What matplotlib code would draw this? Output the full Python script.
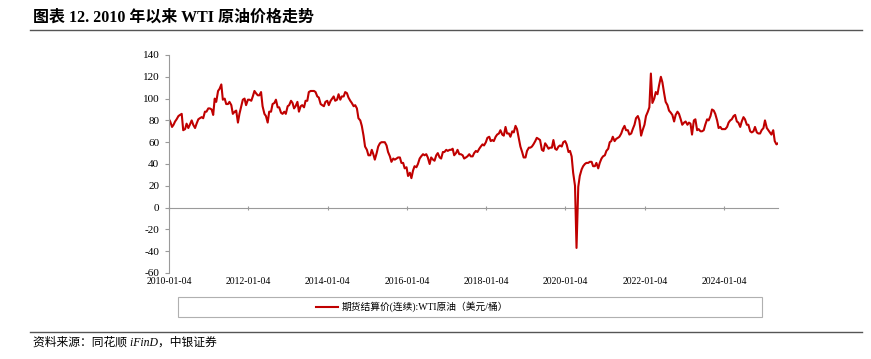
import pandas as pd
import matplotlib
matplotlib.use("Agg")
import matplotlib.pyplot as plt
from matplotlib.lines import Line2D
from matplotlib.patches import Rectangle

plt.rcParams['font.family'] = ['Liberation Serif', 'Noto Sans CJK SC']
plt.rcParams['axes.unicode_minus'] = False

# WTI settlement price at the 1st and 15th of each month
wti_2010 = [81, 79, 74, 76, 79, 81, 84, 85, 86, 71, 72, 77, 73, 76, 80, 76, 73, 77, 81, 82, 83, 82, 88, 88]
wti_2011 = [91, 91, 90, 85, 100, 97, 107, 109, 113, 99, 100, 95, 95, 97, 94, 86, 88, 89, 78, 86, 93, 99, 100, 94]
wti_2012 = [99, 99, 98, 102, 107, 105, 103, 103, 106, 93, 86, 84, 78, 88, 88, 95, 96, 99, 92, 92, 87, 86, 88, 86]
wti_2013 = [93, 94, 98, 96, 91, 93, 97, 88, 93, 94, 92, 98, 98, 106, 107, 107, 107, 106, 102, 101, 95, 94, 93, 97]
wti_2014 = [98, 94, 98, 100, 102, 98, 99, 104, 99, 102, 102, 106, 105, 101, 98, 96, 93, 94, 91, 82, 80, 75, 66, 56]
wti_2015 = [53, 48, 48, 53, 49, 44, 50, 56, 59, 60, 60, 60, 57, 51, 47, 42, 45, 44, 45, 46, 46, 41, 41, 36]
wti_2016 = [37, 29, 32, 27, 34, 38, 37, 40, 45, 47, 49, 48, 49, 46, 40, 46, 44, 43, 48, 50, 46, 45, 51, 51]
wti_2017 = [53, 52, 53, 53, 54, 48, 50, 53, 49, 49, 48, 45, 46, 47, 49, 47, 47, 50, 52, 51, 54, 56, 58, 57]
wti_2018 = [60, 64, 65, 61, 62, 61, 65, 67, 68, 71, 67, 66, 74, 68, 68, 65, 70, 69, 75, 72, 63, 56, 51, 46]
wti_2019 = [46, 52, 55, 55, 56, 58, 61, 64, 63, 62, 53, 52, 59, 57, 54, 55, 55, 62, 54, 53, 56, 57, 56, 60]
wti_2020 = [61, 58, 51, 52, 47, 32, 20, -37, 19, 29, 35, 38, 40, 41, 41, 42, 42, 38, 38, 41, 36, 41, 45, 47]
wti_2021 = [48, 52, 54, 60, 61, 65, 61, 63, 64, 65, 68, 72, 75, 71, 71, 67, 68, 72, 76, 82, 84, 80, 66, 71]
wti_2022 = [76, 84, 88, 92, 123, 96, 100, 106, 104, 112, 120, 115, 105, 97, 94, 89, 87, 85, 79, 85, 88, 86, 81, 76]
wti_2023 = [78, 79, 76, 78, 77, 67, 80, 81, 71, 72, 70, 70, 71, 76, 81, 80, 84, 90, 89, 86, 80, 73, 74, 72]
wti_2024 = [72, 72, 74, 78, 80, 81, 84, 85, 79, 78, 74, 79, 83, 81, 76, 76, 70, 69, 70, 74, 69, 68, 68, 71]
wti_2025 = [73, 80, 73, 71, 69, 67, 71, 61, 58, 59]

prices = (wti_2010 + wti_2011 + wti_2012 + wti_2013 + wti_2014 + wti_2015 + wti_2016 + wti_2017
          + wti_2018 + wti_2019 + wti_2020 + wti_2021 + wti_2022 + wti_2023 + wti_2024 + wti_2025)
dates = pd.date_range("2010-01-01", periods=len(prices), freq="SMS")
dates = dates.where(dates != pd.Timestamp("2010-01-01"), pd.Timestamp("2010-01-04"))

tick_labels = ["2010-01-04", "2012-01-04", "2014-01-04", "2016-01-04",
               "2018-01-04", "2020-01-04", "2022-01-04", "2024-01-04"]
series_name = "期货结算价(连续):WTI原油（美元/桶）"

fig = plt.figure(figsize=(8.71, 3.59), dpi=100)
ax = fig.add_axes([169 / 871, 1 - 273 / 359, 609 / 871, 218 / 359])

red = "#C00000"
ax.plot(dates, prices, color=red, linewidth=1.5)

ax.set_ylim(-60, 140)
ax.set_yticks(range(-60, 141, 20))
ax.set_xlim(pd.Timestamp("2010-01-04"), dates[-1])

tick_dates = [pd.Timestamp(t) for t in tick_labels]
ax.set_xticks(tick_dates)
ax.set_xticklabels(tick_labels)

for s in ["top", "right", "bottom"]:
    ax.spines[s].set_visible(False)
ax.spines["left"].set_color("#9a9a9a")
ax.spines["left"].set_linewidth(0.8)
ax.tick_params(axis="y", length=3, color="#9a9a9a", labelsize=8, pad=4)
ax.tick_params(axis="x", length=0, labelsize=7, pad=3)

# zero line with its own tick marks
sec = ax.secondary_xaxis(0.3)
sec.set_xticks(tick_dates)
sec.set_xticklabels([])
sec.spines["bottom"].set_color("#9a9a9a")
sec.spines["bottom"].set_linewidth(0.8)
sec.tick_params(axis="x", length=2.5, color="#9a9a9a", direction="inout")

# legend box
fig.patches.append(Rectangle((178 / 871, 1 - 317 / 359), 584 / 871, 20 / 359,
                             transform=fig.transFigure, fill=False,
                             edgecolor="#b0b0b0", linewidth=0.8))
handle = Line2D([], [], color=red, linewidth=1.5)
fig.legend([handle], [series_name], loc="center", bbox_to_anchor=(412 / 871, 1 - 307 / 359),
           frameon=False, fontsize=7, handlelength=2.2, handletextpad=0.4)

# title, rules and source
fig.text(33 / 871, 1 - 18 / 359, "图表 12. 2010 年以来 WTI 原油价格走势",
         fontsize=11.5, fontweight="bold", va="center", ha="left")
fig.add_artist(Line2D([30 / 871, 862 / 871], [1 - 30 / 359, 1 - 30 / 359],
                      color="#555555", linewidth=1.0))
fig.add_artist(Line2D([30 / 871, 862 / 871], [1 - 332 / 359, 1 - 332 / 359],
                      color="#555555", linewidth=1.0))
fig.text(33 / 871, 1 - 343 / 359, "资料来源：同花顺 iFinD，中银证券",
         fontsize=8.5, style="italic", va="center", ha="left")

fig.savefig("out.png", dpi=100)
